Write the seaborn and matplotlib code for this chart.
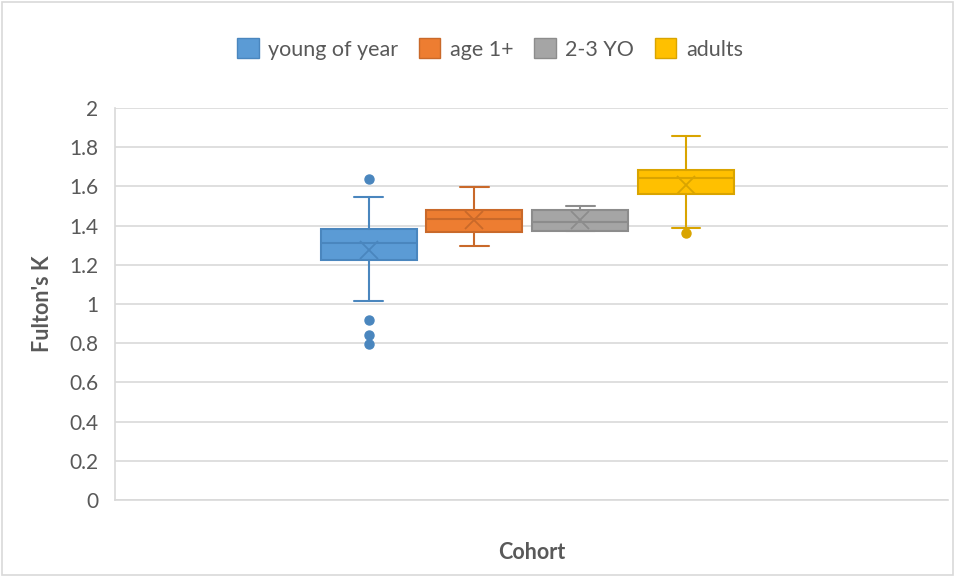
import numpy as np
import seaborn as sns
import matplotlib.pyplot as plt
from matplotlib.patches import Rectangle, Patch

# Box statistics (Fulton's K per cohort)
cohorts = ["young of year", "age 1+", "2-3 YO", "adults"]
whisker_low = [1.015, 1.296, 1.372, 1.389]
q1 = [1.224, 1.369, 1.374, 1.561]
median = [1.310, 1.434, 1.417, 1.644]
q3 = [1.381, 1.480, 1.480, 1.684]
whisker_high = [1.544, 1.599, 1.500, 1.859]
means = [1.276, 1.430, 1.428, 1.607]
outliers = [[1.638, 0.917, 0.842, 0.796], [], [], [1.361]]

fills = ["#5B9BD5", "#ED7D31", "#A5A5A5", "#FFC000"]
edges = ["#4A86BE", "#C9692A", "#8C8C8C", "#D9A400"]

sns.set_theme(style="white")
plt.rcParams['font.family'] = ['Lato', 'DejaVu Sans']

fig = plt.figure(figsize=(9.55, 5.77), dpi=100)
ax = fig.add_axes([115 / 955, 1 - 500 / 577, 833 / 955, 392 / 577])

box_w = 0.1153
step = 0.127
positions = [(i - 1.5) * step - 0.005 for i in range(len(cohorts))]

for i, name in enumerate(cohorts):
    stats = [dict(med=median[i], q1=q1[i], q3=q3[i], whislo=whisker_low[i],
                  whishi=whisker_high[i], mean=means[i], fliers=outliers[i], label=name)]
    ax.bxp(stats, positions=[positions[i]], widths=box_w, capwidths=box_w * 0.3,
           patch_artist=True, showmeans=True, manage_ticks=False,
           boxprops=dict(facecolor=fills[i], edgecolor=edges[i], linewidth=1.5),
           medianprops=dict(color=edges[i], linewidth=1.5),
           whiskerprops=dict(color=edges[i], linewidth=1.5),
           capprops=dict(color=edges[i], linewidth=1.5),
           meanprops=dict(marker='x', markeredgecolor=edges[i], markersize=13,
                          markeredgewidth=1.3),
           flierprops=dict(marker='o', markerfacecolor=edges[i], markeredgecolor=edges[i],
                           markersize=6.5))

ax.set_xlim(-0.5, 0.5)
ax.set_ylim(0, 2)
ax.set_yticks(np.arange(0, 2.01, 0.2))
ax.set_yticklabels(["0", "0.2", "0.4", "0.6", "0.8", "1", "1.2", "1.4", "1.6", "1.8", "2"])
ax.set_xticks([])
ax.yaxis.grid(True, color="#D9D9D9", linewidth=1.2)
ax.set_axisbelow(True)
for side in ["top", "right"]:
    ax.spines[side].set_visible(False)
for side in ["left", "bottom"]:
    ax.spines[side].set_color("#D9D9D9")
    ax.spines[side].set_linewidth(1.2)
ax.tick_params(axis='y', labelsize=15, labelcolor="#595959", length=0, pad=12)

ax.set_ylabel("Fulton's K", fontsize=15.5, fontweight='bold', color="#595959", labelpad=12)
ax.set_xlabel("Cohort", fontsize=15.5, fontweight='bold', color="#595959", labelpad=30)

handles = [Patch(facecolor=fills[i], edgecolor=edges[i], label=cohorts[i]) for i in range(4)]
fig.legend(handles=handles, loc='center', bbox_to_anchor=(490 / 955, 1 - 49 / 577), ncol=4,
           frameon=False, fontsize=15.5, labelcolor="#595959", handlelength=1.0,
           handleheight=1.0, handletextpad=0.45, columnspacing=0.95)

fig.patches.append(Rectangle((0.002, 0.003), 0.996, 0.994, transform=fig.transFigure,
                             fill=False, edgecolor="#D9D9D9", linewidth=1.2))

fig.savefig("out.png", dpi=100)
